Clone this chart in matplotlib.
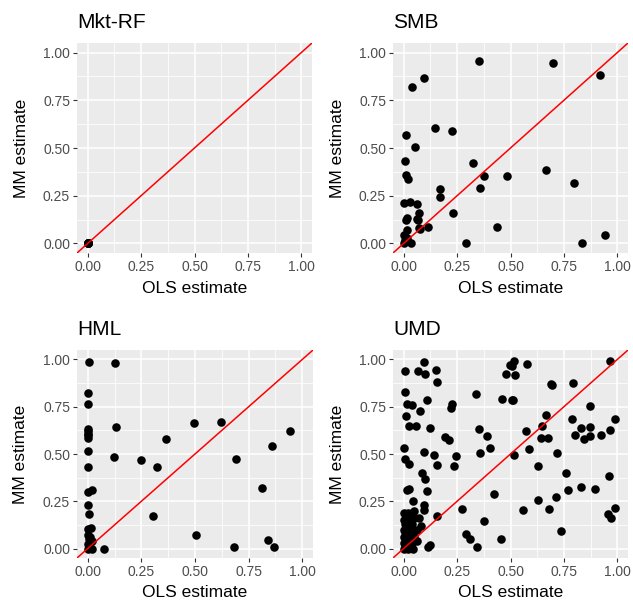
import numpy as np
import matplotlib.pyplot as plt

plt.rcParams['font.family'] = ['Liberation Sans', 'DejaVu Sans']

# factor panels
factors = ['Mkt-RF', 'SMB', 'HML', 'UMD']

# Mkt-RF: every estimate sits at zero
mkt_ols = [0.0, 0.0, 0.0, 0.002, 0.0, 0.001]
mkt_mm = [0.0, 0.0, 0.001, 0.0, 0.002, 0.0]

smb_ols = [0.353, 0.701, 0.918, 0.093, 0.040, 0.146, 0.224, 0.009, 0.051, 0.325,
           0.006, 0.009, 0.022, 0.375, 0.485, 0.666, 0.796, 0.356, 0.169, 0.169,
           0.0, 0.031, 0.062, 0.071, 0.015, 0.063, 0.232, 0.115, 0.074, 0.017,
           0.003, 0.438, 0.940, 0.294, 0.837, 0.034, 0.0, 0.015, 0.005, 0.012,
           0.065, 0.078]
smb_mm = [0.958, 0.947, 0.884, 0.868, 0.822, 0.606, 0.588, 0.569, 0.504, 0.424,
          0.433, 0.356, 0.340, 0.352, 0.352, 0.386, 0.317, 0.292, 0.287, 0.241,
          0.210, 0.218, 0.206, 0.162, 0.132, 0.130, 0.158, 0.086, 0.079, 0.070,
          0.044, 0.086, 0.046, 0.0, 0.0, 0.0, 0.0, 0.026, 0.018, 0.125,
          0.122, 0.078]

hml_ols = [0.008, 0.129, 0.0, 0.0, 0.132, 0.0, 0.0, 0.0, 0.0, 0.495,
           0.622, 0.944, 0.860, 0.367, 0.122, 0.250, 0.324, 0.690, 0.0, 0.0,
           0.019, 0.814, 0.0, 0.008, 0.304, 0.0, 0.016, 0.0, 0.008, 0.022,
           0.0, 0.012, 0.0, 0.078, 0.504, 0.684, 0.839, 0.868, 0.005, 0.01,
           0.0, 0.0, 0.02]
hml_mm = [0.986, 0.981, 0.822, 0.766, 0.644, 0.634, 0.607, 0.586, 0.516, 0.664,
          0.669, 0.620, 0.540, 0.581, 0.482, 0.467, 0.430, 0.475, 0.430, 0.298,
          0.308, 0.319, 0.232, 0.181, 0.174, 0.102, 0.111, 0.070, 0.053, 0.042,
          0.026, 0.009, 0.0, 0.0, 0.074, 0.007, 0.044, 0.009, 0.015, 0.06,
          0.62, 0.60, 0.0]

umd_ols = [0.096, 0.006, 0.065, 0.101, 0.150, 0.158, 0.498, 0.477, 0.005, 0.340,
           0.461, 0.506, 0.108, 0.015, 0.039, 0.224, 0.220, 0.077, 0.009, 0.023,
           0.056, 0.124, 0.353, 0.194, 0.214, 0.390, 0.403, 0.003, 0.093, 0.142,
           0.245, 0.356,
           0.516, 0.505, 0.579, 0.965, 0.523, 0.691, 0.694, 0.794, 0.512, 0.873,
           0.666, 0.788, 0.988, 0.647, 0.830, 0.873, 0.965, 0.574, 0.641, 0.677,
           0.802, 0.845, 0.873, 0.923, 0.588, 0.719, 0.516,
           0.008, 0.023, 0.155, 0.237, 0.085, 0.101, 0.023, 0.015, 0.108, 0.423,
           0.042, 0.096, 0.096, 0.271, 0.155, 0.376, 0.294, 0.310, 0.457, 0.344,
           0.124, 0.116,
           0.628, 0.760, 0.960, 0.830, 0.771, 0.895, 0.714, 0.628, 0.560, 0.678,
           0.988, 0.957, 0.972, 0.735,
           0.0, 0.005, 0.01, 0.0, 0.02, 0.015, 0.0, 0.03, 0.01, 0.0,
           0.02, 0.005, 0.0, 0.01, 0.0, 0.02, 0.03, 0.04, 0.05, 0.03,
           0.04, 0.02, 0.04, 0.05, 0.03, 0.06, 0.07, 0.05, 0.08, 0.04,
           0.06, 0.01, 0.025, 0.045, 0.015, 0.005, 0.035, 0.02]
umd_mm = [0.986, 0.940, 0.937, 0.924, 0.942, 0.880, 0.972, 0.924, 0.828, 0.817,
          0.789, 0.783, 0.783, 0.766, 0.757, 0.766, 0.743, 0.727, 0.701, 0.648,
          0.648, 0.637, 0.630, 0.590, 0.576, 0.595, 0.532, 0.532, 0.511, 0.497,
          0.492, 0.503,
          0.990, 0.968, 0.977, 0.990, 0.919, 0.872, 0.863, 0.875, 0.783, 0.754,
          0.704, 0.683, 0.687, 0.648, 0.637, 0.643, 0.629, 0.622, 0.585, 0.585,
          0.602, 0.577, 0.595, 0.598, 0.525, 0.507, 0.497,
          0.475, 0.449, 0.444, 0.437, 0.401, 0.366, 0.317, 0.308, 0.303, 0.291,
          0.250, 0.232, 0.202, 0.211, 0.173, 0.144, 0.079, 0.053, 0.053, 0.009,
          0.017, 0.009,
          0.437, 0.400, 0.384, 0.326, 0.308, 0.313, 0.273, 0.255, 0.204, 0.211,
          0.215, 0.185, 0.164, 0.095,
          0.0, 0.01, 0.02, 0.03, 0.0, 0.04, 0.06, 0.02, 0.08, 0.10,
          0.11, 0.13, 0.15, 0.17, 0.19, 0.19, 0.18, 0.19, 0.20, 0.15,
          0.13, 0.07, 0.09, 0.06, 0.05, 0.10, 0.16, 0.16, 0.12, 0.03,
          0.04, 0.005, 0.01, 0.0, 0.16, 0.09, 0.12, 0.14]

ols_data = [mkt_ols, smb_ols, hml_ols, umd_ols]
mm_data = [mkt_mm, smb_mm, hml_mm, umd_mm]

ticks = [0, 0.25, 0.5, 0.75, 1.0]
tick_labels = ['0.00', '0.25', '0.50', '0.75', '1.00']

fig = plt.figure(figsize=(6.33, 6.06), dpi=100)
W, H = 633, 606
# panel boxes in pixels: left, top, right, bottom
boxes = [(77, 43, 312, 253), (393, 43, 628, 253),
         (77, 350, 313, 558), (393, 350, 628, 558)]

for name, xs, ys, (l, t, r, b) in zip(factors, ols_data, mm_data, boxes):
    ax = fig.add_axes([l / W, 1 - b / H, (r - l) / W, (b - t) / H])
    ax.set_facecolor('#EBEBEB')
    for s in ax.spines.values():
        s.set_visible(False)
    ax.set_xlim(-0.05, 1.05)
    ax.set_ylim(-0.05, 1.05)
    ax.set_xticks(ticks)
    ax.set_xticklabels(tick_labels)
    ax.set_yticks(ticks)
    ax.set_yticklabels(tick_labels)
    ax.set_xticks(np.arange(0.125, 1.0, 0.25), minor=True)
    ax.set_yticks(np.arange(0.125, 1.0, 0.25), minor=True)
    ax.grid(True, which='major', color='white', linewidth=1.1)
    ax.grid(True, which='minor', color='white', linewidth=0.55)
    ax.set_axisbelow(True)
    ax.tick_params(which='major', length=3, width=0.8, color='#333333',
                   labelcolor='#4D4D4D', labelsize=10, pad=2)
    ax.tick_params(which='minor', length=0)

    ax.scatter(xs, ys, s=38, color='black', linewidths=0, zorder=2)
    # y = x reference line
    ax.plot([-0.05, 1.05], [-0.05, 1.05], color='red', linewidth=1.1, zorder=3)

    ax.set_xlabel('OLS estimate', fontsize=12.5)
    ax.set_ylabel('MM estimate', fontsize=12.5)
    ax.xaxis.set_label_coords(0.5, -0.167)
    ax.xaxis.label.set_verticalalignment('center')
    ax.yaxis.set_label_coords(-0.238, 0.5)
    ax.yaxis.label.set_verticalalignment('center')
    ax.text(0, 1.1, name, transform=ax.transAxes, ha='left', va='center',
            fontsize=15, color='black')

fig.savefig('out.png', dpi=100)
